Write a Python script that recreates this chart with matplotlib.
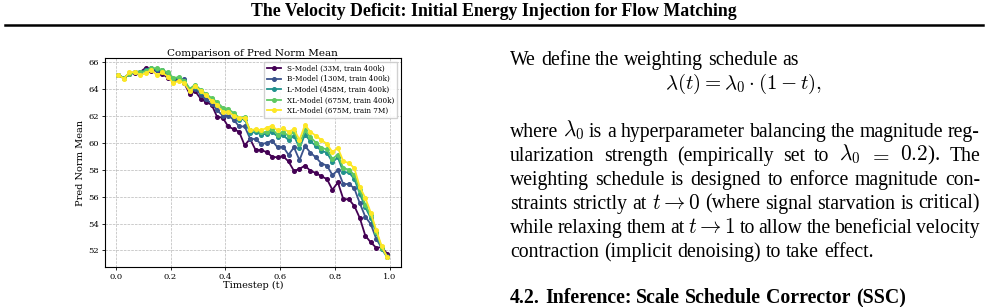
import matplotlib
matplotlib.use('Agg')
import matplotlib.pyplot as plt
from matplotlib.lines import Line2D

W, H = 988, 307

timesteps = [0.01, 0.03, 0.05, 0.07, 0.09, 0.11, 0.13, 0.15, 0.17, 0.19,
             0.21, 0.23, 0.25, 0.27, 0.29, 0.31, 0.33, 0.35, 0.37, 0.39,
             0.41, 0.43, 0.45, 0.47, 0.49, 0.51, 0.53, 0.55, 0.57, 0.59,
             0.61, 0.63, 0.65, 0.67, 0.69, 0.71, 0.73, 0.75, 0.77, 0.79,
             0.81, 0.83, 0.85, 0.87, 0.89, 0.91, 0.93, 0.95, 0.97, 0.99]

s_model = [65.0, 64.76, 65.1, 65.15, 65.25, 65.55, 65.3, 65.37, 65.1, 64.8,
           64.6, 64.7, 64.4, 63.6, 63.8, 63.25, 63.0, 62.8, 61.9, 61.85,
           61.2, 61.0, 60.8, 59.8, 60.27, 59.45, 59.45, 59.3, 58.96, 58.9,
           59.0, 58.6, 57.9, 58.05, 58.3, 57.9, 57.75, 57.5, 57.3, 56.5,
           57.05, 55.8, 55.8, 55.3, 54.4, 53.1, 52.6, 52.2, 52.25, 51.75]

b_model = [65.0, 64.8, 65.1, 65.2, 65.2, 65.4, 65.4, 65.4, 65.3, 65.0,
           64.7, 64.75, 64.7, 63.8, 64.0, 63.55, 63.2, 62.9, 62.4, 62.0,
           62.0, 61.7, 61.2, 61.2, 60.3, 60.25, 59.9, 59.97, 60.15, 59.65,
           59.7, 59.1, 59.65, 58.7, 59.75, 59.25, 58.9, 58.45, 58.3, 57.6,
           57.95, 56.9, 56.95, 56.6, 55.5, 54.5, 53.95, 52.85, 52.2, 51.6]

l_model = [65.0, 64.8, 65.15, 65.2, 65.2, 65.4, 65.5, 65.45, 65.35, 65.1,
           64.75, 64.8, 64.55, 63.9, 64.1, 63.75, 63.5, 63.2, 62.8, 62.45,
           62.3, 62.0, 61.7, 61.75, 60.7, 60.8, 60.6, 60.65, 60.8, 60.45,
           60.55, 60.2, 60.5, 59.6, 60.6, 60.1, 59.75, 59.4, 59.25, 58.55,
           58.9, 57.8, 57.8, 57.3, 56.2, 55.2, 54.4, 53.3, 52.1, 51.5]

xl_400k = [65.0, 64.8, 65.1, 65.2, 65.2, 65.3, 65.55, 65.5, 65.4, 65.2,
           64.8, 64.85, 64.6, 64.0, 64.3, 63.9, 63.6, 63.3, 63.0, 62.6,
           62.5, 62.2, 61.85, 61.9, 60.9, 60.9, 60.75, 60.8, 61.0, 60.6,
           60.8, 60.5, 60.8, 59.9, 60.9, 60.4, 60.0, 59.6, 59.5, 58.8,
           59.1, 58.1, 58.0, 57.6, 56.5, 55.4, 54.6, 53.4, 52.2, 51.5]

xl_7m = [65.0, 64.75, 65.2, 65.25, 65.0, 65.15, 65.4, 65.0, 65.2, 64.9,
         64.4, 64.6, 64.4, 63.8, 64.2, 63.8, 63.5, 63.1, 62.8, 62.3,
         62.3, 62.0, 61.8, 61.85, 60.9, 61.0, 60.9, 61.1, 61.25, 60.9,
         61.05, 60.8, 61.0, 60.2, 61.3, 60.8, 60.5, 60.2, 59.9, 59.3,
         59.6, 58.6, 58.5, 58.1, 56.7, 55.9, 54.8, 53.5, 52.3, 51.5]

series = [s_model, b_model, l_model, xl_400k, xl_7m]
labels = ['S-Model (33M, train 400k)', 'B-Model (130M, train 400k)',
          'L-Model (458M, train 400k)', 'XL-Model (675M, train 400k)',
          'XL-Model (675M, train 7M)']
colors = ['#440154', '#3b528b', '#21918c', '#5ec962', '#fde725']
xticks = [0.0, 0.2, 0.4, 0.6, 0.8, 1.0]
yticks = [52, 54, 56, 58, 60, 62, 64, 66]

plt.rcParams['mathtext.fontset'] = 'cm'
fig = plt.figure(figsize=(W / 100, H / 100), dpi=100)
fig.patch.set_facecolor('white')

# ---- header ----
fig.text(0.5, 1 - 12 / H, 'The Velocity Deficit: Initial Energy Injection for Flow Matching',
         ha='center', va='center', fontfamily='Liberation Serif', fontweight='bold', fontsize=12.8)
fig.add_artist(Line2D([5 / W, 983 / W], [1 - 25 / H] * 2, lw=1.8, color='black'))

# ---- chart ----
ax = fig.add_axes([105 / W, 1 - 266.7 / H, (400.7 - 105) / W, (266.7 - 58.3) / H])
serif = 'DejaVu Serif'
for vals, lab, c in zip(series, labels, colors):
    ax.plot(timesteps, vals, color=c, lw=1.3, marker='o', markersize=2.6, label=lab)
ax.set_xticks(xticks)
ax.set_yticks(yticks)
ax.set_xticklabels([f'{v:.1f}' for v in xticks], fontfamily=serif, fontsize=6)
ax.set_yticklabels([str(v) for v in yticks], fontfamily=serif, fontsize=6)
ax.tick_params(length=2.5, width=0.6, pad=2)
ax.grid(True, ls='--', lw=0.5, color='#999999', alpha=0.7)
ax.set_title('Comparison of Pred Norm Mean', fontfamily=serif, fontsize=7.5, pad=2)
ax.set_xlabel('Timestep (t)', fontfamily=serif, fontsize=7, labelpad=0)
ax.set_ylabel('Pred Norm Mean', fontfamily=serif, fontsize=7, labelpad=2)
for sp in ax.spines.values():
    sp.set_linewidth(0.8)
leg = ax.legend(loc='upper right', prop={'family': serif, 'size': 5.2},
                handlelength=2.0, labelspacing=0.35, borderpad=0.4, fancybox=False,
                framealpha=0.9, edgecolor='#cccccc')

# ---- right text ----
R = fig.canvas.get_renderer()
FS = 14.2
tf = dict(fontfamily='Liberation Serif', fontsize=FS, color='black')
X0, X1 = 510, 980


def place(tokens, baseline, justify=True, **kw):
    texts = []
    for tok in tokens:
        k = dict(kw)
        if tok.startswith('$'):
            k['fontsize'] = kw['fontsize'] * 1.08
        texts.append(fig.text(0, 1 - baseline / H, tok, ha='left', va='baseline', **k))
    widths = [tx.get_window_extent(R).width for tx in texts]
    a1 = fig.text(0, 0, 'a a', **kw)
    a2 = fig.text(0, 0, 'aa', **kw)
    sw = a1.get_window_extent(R).width - a2.get_window_extent(R).width
    a1.remove()
    a2.remove()
    gap = (X1 - X0 - sum(widths)) / (len(tokens) - 1) if justify else sw
    x = X0
    for tx, w in zip(texts, widths):
        tx.set_x(x / W)
        x += w + gap


place('We define the weighting schedule as'.split(), 65, justify=False, **tf)
fig.text(744 / W, 1 - 88.5 / H, r'$\lambda(t) = \lambda_0 \cdot (1 - t),$',
         ha='center', va='baseline', fontsize=15)
lines = [
    ['where', r'$\lambda_0$', 'is', 'a', 'hyperparameter', 'balancing', 'the', 'magnitude', 'reg-'],
    ['ularization', 'strength', '(empirically', 'set', 'to', r'$\lambda_0$', r'$=$', r'$0.2$).', 'The'],
    ['weighting', 'schedule', 'is', 'designed', 'to', 'enforce', 'magnitude', 'con-'],
    ['straints', 'strictly', 'at', r'$t \rightarrow 0$', '(where', 'signal', 'starvation', 'is', 'critical)'],
    ['while', 'relaxing', 'them', 'at', r'$t \rightarrow 1$', 'to', 'allow', 'the', 'beneficial', 'velocity'],
]
base = 136.7
for i, toks in enumerate(lines):
    place(toks, base + 24 * i, justify=True, **tf)
place('contraction (implicit denoising) to take effect.'.split(), base + 24 * 5, justify=False, **tf)

place('4.2. Inference: Scale Schedule Corrector (SSC)'.split(), 303, justify=False,
      fontfamily='Liberation Serif', fontsize=14.3, fontweight='bold')

fig.savefig('out.png', dpi=100, facecolor='white')
